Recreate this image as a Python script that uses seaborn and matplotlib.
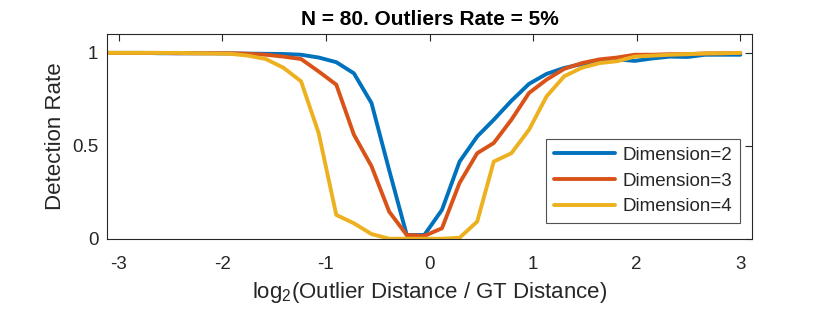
import numpy as np
import pandas as pd
import matplotlib
matplotlib.use("Agg")
import matplotlib.pyplot as plt
import seaborn as sns

# ---- data ----
x_vals = [-3.11, -2.94, -2.77, -2.60, -2.43, -2.26, -2.09, -1.92, -1.75, -1.58,
          -1.41, -1.24, -1.07, -0.90, -0.73, -0.56, -0.39, -0.22, -0.05, 0.12,
          0.29, 0.46, 0.62, 0.79, 0.96, 1.13, 1.30, 1.47, 1.64, 1.81,
          1.98, 2.15, 2.32, 2.49, 2.66, 2.83, 3.00]

dim2 = [1.0, 1.0, 1.0, 0.998, 0.998, 0.998, 0.998, 0.997, 0.996, 0.995,
        0.994, 0.99, 0.975, 0.95, 0.89, 0.73, 0.37, 0.02, 0.02, 0.155,
        0.415, 0.55, 0.64, 0.742, 0.833, 0.887, 0.919, 0.94, 0.955, 0.965,
        0.957, 0.97, 0.98, 0.978, 0.99, 0.99, 0.99]

dim3 = [1.0, 1.0, 1.0, 1.0, 0.998, 0.998, 0.998, 0.998, 0.995, 0.99,
        0.98, 0.967, 0.90, 0.829, 0.56, 0.39, 0.146, 0.02, 0.015, 0.056,
        0.30, 0.46, 0.515, 0.64, 0.784, 0.856, 0.914, 0.945, 0.965, 0.975,
        0.99, 0.99, 0.993, 0.993, 0.997, 0.998, 1.0]

dim4 = [1.0, 1.0, 1.0, 1.0, 1.0, 0.998, 0.997, 0.995, 0.985, 0.967,
        0.92, 0.847, 0.568, 0.128, 0.083, 0.025, 0.0, 0.0, 0.0, 0.0,
        0.005, 0.092, 0.415, 0.46, 0.586, 0.766, 0.874, 0.92, 0.945, 0.955,
        0.98, 0.985, 0.99, 0.993, 0.997, 0.998, 1.0]

series_names = ["Dimension=2", "Dimension=3", "Dimension=4"]
colors = ["#0072BD", "#D95319", "#EDB120"]

df = pd.concat([
    pd.DataFrame({"x": x_vals, "rate": vals, "series": name})
    for name, vals in zip(series_names, [dim2, dim3, dim4])
], ignore_index=True)

# ---- style ----
sns.set_style("white")
plt.rcParams["font.family"] = ["Liberation Sans", "DejaVu Sans"]
plt.rcParams["mathtext.default"] = "regular"
plt.rcParams["mathtext.fontset"] = "custom"
plt.rcParams["mathtext.rm"] = "Liberation Sans"

fig = plt.figure(figsize=(8.30, 3.13), dpi=100)
ax = fig.add_axes([0.1293, 0.2374, 0.9057 - 0.1293, 0.8904 - 0.2374])

sns.lineplot(data=df, x="x", y="rate", hue="series", palette=colors,
             hue_order=series_names, linewidth=2.8, ax=ax, sort=False,
             estimator=None)

ax.set_xlim(-3.11, 3.11)
ax.set_ylim(0, 1.1)
ax.set_xticks([-3, -2, -1, 0, 1, 2, 3])
ax.set_xticklabels(["-3", "-2", "-1", "0", "1", "2", "3"])
ax.set_yticks([0, 0.5, 1])
ax.set_yticklabels(["0", "0.5", "1"])

axc = "#262626"
for s in ax.spines.values():
    s.set_visible(True)
    s.set_color(axc)
    s.set_linewidth(0.8)
ax.tick_params(axis="both", direction="in", length=5, width=0.8, color=axc,
               labelcolor=axc, labelsize=13.5, top=True, right=True)
ax.tick_params(axis="x", pad=12.5)
ax.tick_params(axis="y", pad=6.5)

ax.set_xlabel(r"$log_2$(Outlier Distance / GT Distance)", fontsize=16,
              color=axc, labelpad=5)
ax.set_ylabel("Detection Rate", fontsize=16, color=axc, labelpad=4)
ax.set_title("N = 80. Outliers Rate = 5%", fontsize=15, fontweight="bold",
             color="black", pad=6.5)

leg = ax.legend(loc="upper left", bbox_to_anchor=(0.6575, 0.5559),
                bbox_transform=fig.transFigure, frameon=True, fancybox=False,
                fontsize=13.5, handlelength=3.3, handletextpad=0.35,
                labelspacing=0.45, borderpad=0.42, borderaxespad=0)
leg.get_frame().set_edgecolor(axc)
leg.get_frame().set_linewidth(0.8)
for t in leg.get_texts():
    t.set_color(axc)

fig.savefig("out.png", dpi=100, facecolor="white")
